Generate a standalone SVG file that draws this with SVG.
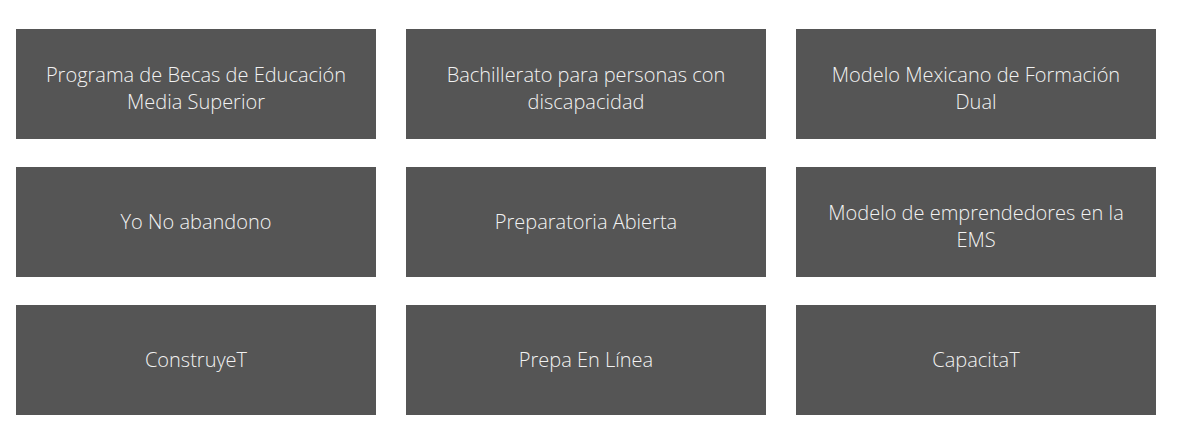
<svg xmlns="http://www.w3.org/2000/svg" width="1180" height="442" viewBox="0 0 1180 442">
<style>
.box{fill:#555555}
.t{font-family:"Open Sans",sans-serif;font-weight:300;font-size:20px;fill:#f2f2f2;text-anchor:middle}
</style>
<rect width="1180" height="442" fill="#ffffff"/>
<g id="n1"><rect class="box" x="16" y="29" width="360" height="110"/><text class="t" x="196" y="82">Programa de Becas de Educación</text><text class="t" x="196" y="109">Media Superior</text></g>
<g id="n2"><rect class="box" x="406" y="29" width="360" height="110"/><text class="t" x="586" y="82">Bachillerato para personas con</text><text class="t" x="586" y="109">discapacidad</text></g>
<g id="n3"><rect class="box" x="796" y="29" width="360" height="110"/><text class="t" x="976" y="82">Modelo Mexicano de Formación</text><text class="t" x="976" y="109">Dual</text></g>
<g id="n4"><rect class="box" x="16" y="167" width="360" height="110"/><text class="t" x="196" y="229">Yo No abandono</text></g>
<g id="n5"><rect class="box" x="406" y="167" width="360" height="110"/><text class="t" x="586" y="229">Preparatoria Abierta</text></g>
<g id="n6"><rect class="box" x="796" y="167" width="360" height="110"/><text class="t" x="976" y="220">Modelo de emprendedores en la</text><text class="t" x="976" y="247">EMS</text></g>
<g id="n7"><rect class="box" x="16" y="305" width="360" height="110"/><text class="t" x="196" y="367">ConstruyeT</text></g>
<g id="n8"><rect class="box" x="406" y="305" width="360" height="110"/><text class="t" x="586" y="367">Prepa En Línea</text></g>
<g id="n9"><rect class="box" x="796" y="305" width="360" height="110"/><text class="t" x="976" y="367">CapacitaT</text></g>
<g id="connectors"></g>
</svg>
